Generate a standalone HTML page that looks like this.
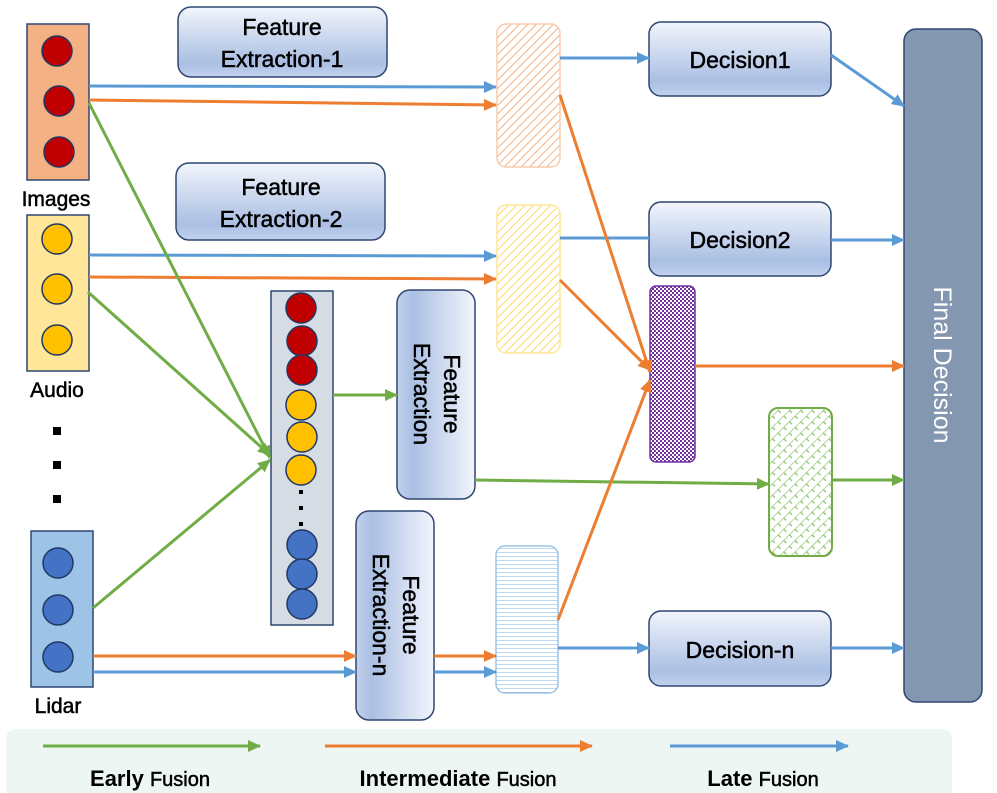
<!DOCTYPE html>
<html><head><meta charset="utf-8"><style>
html,body{margin:0;padding:0;background:#fff;}
svg{display:block;font-family:"Liberation Sans",sans-serif;}
.t{stroke:#000;stroke-width:0.5;}
</style></head><body>
<svg width="997" height="793" viewBox="0 0 997 793" xmlns="http://www.w3.org/2000/svg">
<defs>
<linearGradient id="gv" x1="0" y1="0" x2="0" y2="1"><stop offset="0" stop-color="#f2f5fc"/><stop offset="0.8" stop-color="#aabfe3"/><stop offset="1" stop-color="#c3d2ee"/></linearGradient>
<linearGradient id="gh" x1="0" y1="0" x2="1" y2="0"><stop offset="0" stop-color="#c3d2ee"/><stop offset="0.2" stop-color="#aabfe3"/><stop offset="1" stop-color="#f2f5fc"/></linearGradient>
<pattern id="pOr" width="6" height="6" patternUnits="userSpaceOnUse" patternTransform="rotate(45)"><rect width="6" height="6" fill="#fff"/><line x1="0" y1="0" x2="0" y2="6" stroke="#f4b183" stroke-width="2"/></pattern>
<pattern id="pYe" width="6" height="6" patternUnits="userSpaceOnUse" patternTransform="rotate(45)"><rect width="6" height="6" fill="#fff"/><line x1="0" y1="0" x2="0" y2="6" stroke="#ffd966" stroke-width="2"/></pattern>
<pattern id="pBl" width="6" height="4" patternUnits="userSpaceOnUse"><rect width="6" height="4" fill="#fff"/><line x1="0" y1="0" x2="6" y2="0" stroke="#9dc3e6" stroke-width="1.3"/></pattern>
<pattern id="pPu" width="4" height="4" patternUnits="userSpaceOnUse"><rect width="4" height="4" fill="#fff"/><rect width="2" height="2" fill="#7030a0"/><rect x="2" y="2" width="2" height="2" fill="#7030a0"/></pattern>
<pattern id="pGr" width="8" height="8" patternUnits="userSpaceOnUse" patternTransform="rotate(45)"><rect width="8" height="8" fill="#fff"/><line x1="0" y1="0" x2="0" y2="8" stroke="#8cc36a" stroke-width="1.3"/><line x1="0" y1="4" x2="4" y2="4" stroke="#8cc36a" stroke-width="1.3"/></pattern>
<marker id="aB" markerWidth="13" markerHeight="12" refX="12" refY="6" orient="auto" markerUnits="userSpaceOnUse" viewBox="0 0 13 12"><path d="M0,0 L13,6 L0,12z" fill="#5b9bd5"/></marker>
<marker id="aO" markerWidth="13" markerHeight="12" refX="12" refY="6" orient="auto" markerUnits="userSpaceOnUse" viewBox="0 0 13 12"><path d="M0,0 L13,6 L0,12z" fill="#ed7d31"/></marker>
<marker id="aG" markerWidth="13" markerHeight="12" refX="12" refY="6" orient="auto" markerUnits="userSpaceOnUse" viewBox="0 0 13 12"><path d="M0,0 L13,6 L0,12z" fill="#70ad47"/></marker>
</defs>

<rect x="6" y="729" width="946" height="70" rx="10" fill="#edf6f3"/>
<line x1="43" y1="746" x2="260" y2="746" stroke="#70ad47" stroke-width="3" marker-end="url(#aG)"/>
<line x1="325" y1="746" x2="592" y2="746" stroke="#ed7d31" stroke-width="3" marker-end="url(#aO)"/>
<line x1="670" y1="746" x2="848" y2="746" stroke="#5b9bd5" stroke-width="3" marker-end="url(#aB)"/>
<text x="150" y="786" text-anchor="middle" font-size="22" font-weight="bold">Early <tspan font-size="20" font-weight="normal" class="t">Fusion</tspan></text>
<text x="458" y="786" text-anchor="middle" font-size="22" font-weight="bold">Intermediate <tspan font-size="20" font-weight="normal" class="t">Fusion</tspan></text>
<text x="763" y="786" text-anchor="middle" font-size="22" font-weight="bold">Late <tspan font-size="20" font-weight="normal" class="t">Fusion</tspan></text>

<rect x="27" y="24" width="62" height="156" fill="#f4b183" stroke="#2f4770" stroke-width="1.5"/>
<g fill="#c00000" stroke="#1f3864" stroke-width="1.5"><circle cx="57" cy="51" r="15"/><circle cx="59" cy="101" r="15"/><circle cx="59" cy="152" r="15"/></g>
<text x="56" y="206" text-anchor="middle" font-size="21" class="t">Images</text>
<rect x="27" y="215" width="62" height="156" fill="#ffe699" stroke="#2f4770" stroke-width="1.5"/>
<g fill="#ffc000" stroke="#1f3864" stroke-width="1.5"><circle cx="57" cy="239" r="15"/><circle cx="57" cy="289" r="15"/><circle cx="57" cy="340" r="15"/></g>
<text x="57" y="397" text-anchor="middle" font-size="21" class="t">Audio</text>
<g fill="#000"><rect x="53" y="427" width="8" height="8"/><rect x="53" y="461" width="8" height="8"/><rect x="53" y="495" width="8" height="8"/></g>
<rect x="31" y="531" width="62" height="156" fill="#9dc3e6" stroke="#2f4770" stroke-width="1.5"/>
<g fill="#4472c4" stroke="#1f3864" stroke-width="1.5"><circle cx="58" cy="563" r="15"/><circle cx="58" cy="610" r="15"/><circle cx="58" cy="657" r="15"/></g>
<text x="58" y="713" text-anchor="middle" font-size="21" class="t">Lidar</text>

<rect x="271" y="291" width="62" height="334" fill="#d6dce4" stroke="#2f4770" stroke-width="1.5"/>
<g stroke="#1f3864" stroke-width="1.5">
<circle cx="301" cy="308" r="15" fill="#c00000"/><circle cx="302" cy="341" r="15" fill="#c00000"/><circle cx="302" cy="370" r="15" fill="#c00000"/>
<circle cx="301" cy="405" r="15" fill="#ffc000"/><circle cx="302" cy="437" r="15" fill="#ffc000"/><circle cx="301" cy="470" r="15" fill="#ffc000"/>
<circle cx="302" cy="545" r="15" fill="#4472c4"/><circle cx="302" cy="574" r="15" fill="#4472c4"/><circle cx="302" cy="604" r="15" fill="#4472c4"/>
</g>
<g fill="#000"><rect x="299" y="490" width="4" height="4"/><rect x="299" y="506" width="4" height="4"/><rect x="299" y="522" width="4" height="4"/></g>

<rect x="178" y="7" width="209" height="70" rx="13" fill="url(#gv)" stroke="#2f4770" stroke-width="1.5"/>
<text x="282" y="35" text-anchor="middle" font-size="23" class="t">Feature</text>
<text x="282" y="67" text-anchor="middle" font-size="23" class="t">Extraction-1</text>
<rect x="176" y="163" width="209" height="77" rx="13" fill="url(#gv)" stroke="#2f4770" stroke-width="1.5"/>
<text x="281" y="195" text-anchor="middle" font-size="23" class="t">Feature</text>
<text x="281" y="227" text-anchor="middle" font-size="23" class="t">Extraction-2</text>
<rect x="397" y="290" width="78" height="209" rx="13" fill="url(#gh)" stroke="#2f4770" stroke-width="1.5"/>
<g transform="translate(436,394) rotate(90)"><text x="0" y="-8" text-anchor="middle" font-size="23" class="t">Feature</text><text x="0" y="22" text-anchor="middle" font-size="23" class="t">Extraction</text></g>
<rect x="356" y="511" width="78" height="209" rx="13" fill="url(#gh)" stroke="#2f4770" stroke-width="1.5"/>
<g transform="translate(395,615) rotate(90)"><text x="0" y="-8" text-anchor="middle" font-size="23" class="t">Feature</text><text x="0" y="22" text-anchor="middle" font-size="23" class="t">Extraction-n</text></g>

<rect x="497" y="24" width="63" height="143" rx="9" fill="url(#pOr)" stroke="#f8cbad" stroke-width="1.5"/>
<rect x="497" y="205" width="63" height="148" rx="9" fill="url(#pYe)" stroke="#ffe699" stroke-width="1.5"/>
<rect x="496" y="546" width="62" height="147" rx="9" fill="url(#pBl)" stroke="#9dc3e6" stroke-width="1.5"/>
<rect x="650" y="286" width="45" height="176" rx="6" fill="url(#pPu)" stroke="#7030a0" stroke-width="1.5"/>
<rect x="769" y="408" width="63" height="148" rx="9" fill="url(#pGr)" stroke="#70ad47" stroke-width="2"/>

<rect x="649" y="22" width="182" height="74" rx="12" fill="url(#gv)" stroke="#2f4770" stroke-width="1.5"/>
<text x="740" y="68" text-anchor="middle" font-size="23" class="t">Decision1</text>
<rect x="649" y="202" width="182" height="74" rx="12" fill="url(#gv)" stroke="#2f4770" stroke-width="1.5"/>
<text x="740" y="248" text-anchor="middle" font-size="23" class="t">Decision2</text>
<rect x="649" y="611" width="182" height="75" rx="12" fill="url(#gv)" stroke="#2f4770" stroke-width="1.5"/>
<text x="740" y="658" text-anchor="middle" font-size="23" class="t">Decision-n</text>
<rect x="904" y="29" width="78" height="673" rx="12" fill="#8497b0" stroke="#2f4770" stroke-width="1.5"/>
<g transform="translate(934,365) rotate(90)"><text x="0" y="0" text-anchor="middle" font-size="25" fill="#fff">Final Decision</text></g>

<g fill="none" stroke-width="3">
<line x1="89" y1="86" x2="496" y2="87" stroke="#5b9bd5" marker-end="url(#aB)"/>
<line x1="89" y1="255" x2="496" y2="256" stroke="#5b9bd5" marker-end="url(#aB)"/>
<line x1="89" y1="100" x2="496" y2="105" stroke="#ed7d31" marker-end="url(#aO)"/>
<line x1="89" y1="277" x2="496" y2="279" stroke="#ed7d31" marker-end="url(#aO)"/>
<line x1="89" y1="103" x2="270" y2="458" stroke="#70ad47" marker-end="url(#aG)"/>
<line x1="88" y1="292" x2="270" y2="455" stroke="#70ad47" marker-end="url(#aG)"/>
<line x1="93" y1="608" x2="270" y2="460" stroke="#70ad47" marker-end="url(#aG)"/>
<line x1="333" y1="395" x2="397" y2="395" stroke="#70ad47" marker-end="url(#aG)"/>
<line x1="475" y1="480" x2="769" y2="484" stroke="#70ad47" marker-end="url(#aG)"/>
<line x1="832" y1="480" x2="904" y2="480" stroke="#70ad47" marker-end="url(#aG)"/>
<line x1="93" y1="656" x2="356" y2="656" stroke="#ed7d31" marker-end="url(#aO)"/>
<line x1="93" y1="672" x2="356" y2="672" stroke="#5b9bd5" marker-end="url(#aB)"/>
<line x1="434" y1="656" x2="496" y2="656" stroke="#ed7d31" marker-end="url(#aO)"/>
<line x1="434" y1="672" x2="496" y2="672" stroke="#5b9bd5" marker-end="url(#aB)"/>
<line x1="560" y1="58" x2="649" y2="58" stroke="#5b9bd5" marker-end="url(#aB)"/>
<line x1="831" y1="55" x2="904" y2="106" stroke="#5b9bd5" marker-end="url(#aB)"/>
<line x1="560" y1="238" x2="649" y2="238" stroke="#5b9bd5"/>
<line x1="831" y1="240" x2="904" y2="240" stroke="#5b9bd5" marker-end="url(#aB)"/>
<line x1="558" y1="648" x2="649" y2="648" stroke="#5b9bd5" marker-end="url(#aB)"/>
<line x1="831" y1="648" x2="904" y2="648" stroke="#5b9bd5" marker-end="url(#aB)"/>
<line x1="560" y1="95" x2="650" y2="372" stroke="#ed7d31" marker-end="url(#aO)"/>
<line x1="560" y1="280" x2="650" y2="370" stroke="#ed7d31" marker-end="url(#aO)"/>
<line x1="558" y1="620" x2="650" y2="380" stroke="#ed7d31" marker-end="url(#aO)"/>
<line x1="695" y1="366" x2="904" y2="366" stroke="#ed7d31" marker-end="url(#aO)"/>
</g>
</svg>
</body></html>
